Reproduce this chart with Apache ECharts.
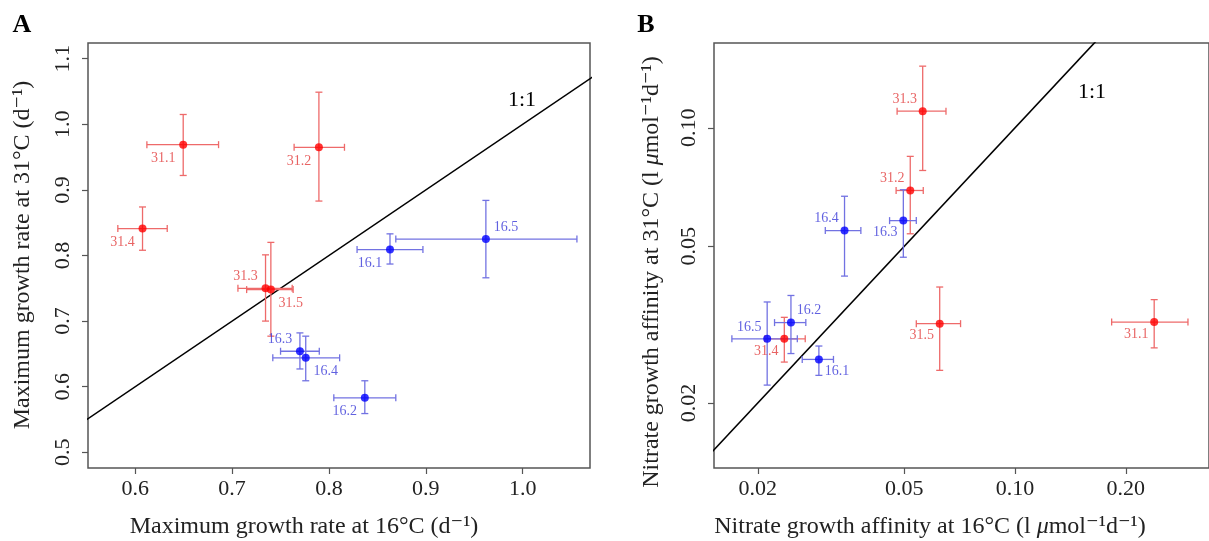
<!DOCTYPE html>
<html><head><meta charset="utf-8">
<script src="https://cdn.jsdelivr.net/npm/echarts@6/dist/echarts.min.js"></script>
<style>html,body{margin:0;padding:0;background:#fff}#c{width:1209px;height:541px}</style>
</head><body><div id="c"></div>
<script>
// ---------- data ----------
const redNames  = ['31.1','31.2','31.3','31.4','31.5'];
const blueNames = ['16.1','16.2','16.3','16.4','16.5'];

// Panel A: maximum growth rate, [value, lower, upper]
const aRedX  = [[0.6495,0.612,0.686],[0.7896,0.764,0.816],[0.7345,0.706,0.762],[0.6075,0.582,0.633],[0.740,0.715,0.763]];
const aRedY  = [[0.969,0.922,1.015],[0.965,0.883,1.049],[0.750,0.700,0.801],[0.841,0.808,0.874],[0.748,0.677,0.820]];
const aBlueX = [[0.863,0.829,0.897],[0.837,0.805,0.869],[0.770,0.750,0.790],[0.776,0.742,0.811],[0.962,0.869,1.056]];
const aBlueY = [[0.809,0.787,0.833],[0.583,0.559,0.609],[0.654,0.627,0.682],[0.644,0.609,0.677],[0.825,0.766,0.884]];

// Panel B: nitrate growth affinity, [value, lower, upper]
const bRedX  = [[0.2388,0.183,0.295],[0.0519,0.0475,0.0563],[0.0561,0.0478,0.0649],[0.0236,0.0209,0.0269],[0.0624,0.0539,0.0711]];
const bRedY  = [[0.0321,0.0276,0.0366],[0.0693,0.0538,0.0846],[0.1102,0.0779,0.1434],[0.0291,0.0254,0.0330],[0.0318,0.0242,0.0394]];
const bBlueX = [[0.0293,0.0264,0.0321],[0.0246,0.0222,0.0270],[0.0497,0.0456,0.0539],[0.0344,0.0305,0.0381],[0.0212,0.0170,0.0256]];
const bBlueY = [[0.0258,0.0235,0.0279],[0.0320,0.0267,0.0375],[0.0581,0.0469,0.0696],[0.0548,0.0420,0.0670],[0.0291,0.0222,0.0361]];

// tick values / labels
const aXTicks = [0.6,0.7,0.8,0.9,1.0];
const aYTicks = [0.5,0.6,0.7,0.8,0.9,1.0,1.1];
const bXTicks = [0.02,0.05,0.10,0.20];
const bXTickLabels = ['0.02','0.05','0.10','0.20'];
const bYTicks = [0.02,0.05,0.10];
const bYTickLabels = ['0.02','0.05','0.10'];

// label placement (corner relative to point)
const aRedSide  = ['bl','bl','tl','bl','br'];
const aBlueSide = ['bl','bl','tl','br','tr'];
const bRedSide  = ['bl','tl','tl','bl','bl'];
const bBlueSide = ['br','tr','bl','tl','tl'];

// ---------- helpers ----------
const FONT = "'Liberation Serif','DejaVu Serif',serif";
const RED = '#ff0000', RED_BAR = '#ee6a6a', RED_TXT = '#e23c3c';
const BLUE = '#0000ff', BLUE_BAR = '#7272e2', BLUE_TXT = '#3a3ad8';
const ident = v => v;
const lg = v => Math.log10(v);

function errSeries(grid, xs, ys, f, color) {
  return {
    type: 'custom', xAxisIndex: grid, yAxisIndex: grid, z: 2, silent: true,
    data: xs.map((x, i) => [f(x[0]), f(x[1]), f(x[2]), f(ys[i][0]), f(ys[i][1]), f(ys[i][2])]),
    encode: { x: [0,1,2], y: [3,4,5] },
    renderItem: (params, api) => {
      const x = api.value(0), xl = api.value(1), xh = api.value(2);
      const y = api.value(3), yl = api.value(4), yh = api.value(5);
      const L = api.coord([xl, y]), R = api.coord([xh, y]);
      const T = api.coord([x, yh]), B = api.coord([x, yl]);
      const c = 3.5, st = { stroke: color, lineWidth: 1.3 };
      const ln = (x1,y1,x2,y2) => ({ type: 'line', shape: {x1,y1,x2,y2}, style: st });
      return { type: 'group', children: [
        ln(L[0],L[1],R[0],R[1]), ln(L[0],L[1]-c,L[0],L[1]+c), ln(R[0],R[1]-c,R[0],R[1]+c),
        ln(T[0],T[1],B[0],B[1]), ln(T[0]-c,T[1],T[0]+c,T[1]), ln(B[0]-c,B[1],B[0]+c,B[1])
      ]};
    }
  };
}
function ptSeries(grid, names, xs, ys, f, color, txt, sides, dx, dyT, dyB) {
  return {
    type: 'scatter', xAxisIndex: grid, yAxisIndex: grid, z: 3, symbolSize: 8,
    itemStyle: { color: color },
    data: xs.map((x, i) => ({
      name: names[i], value: [f(x[0]), f(ys[i][0])],
      label: { offset: [sides[i][1] === 'l' ? -dx : dx, sides[i][0] === 't' ? dyT : dyB] }
    })),
    label: { show: true, position: 'inside', formatter: '{b}', color: txt,
             fontFamily: FONT, fontSize: 14 }
  };
}
function lineSeries(grid, lo, hi) {
  return { type: 'line', xAxisIndex: grid, yAxisIndex: grid, z: 1, symbol: 'none', silent: true,
           clip: true, lineStyle: { color: '#000', width: 1.6 }, data: [[lo, lo], [hi, hi]] };
}
const tickStyle = { show: true, inside: false, length: 6, lineStyle: { color: '#555', width: 1.2 } };
const lblStyle = { fontFamily: FONT, fontSize: 22, color: '#222' };
function axis(grid, min, max, ticks, fmt, rotate, margin) {
  return {
    type: 'value', gridIndex: grid, min, max, splitLine: { show: false },
    axisLine: { show: false },
    axisTick: Object.assign({ customValues: ticks }, tickStyle),
    axisLabel: Object.assign({ customValues: ticks, formatter: fmt, rotate: rotate, margin: margin }, lblStyle)
  };
}
const logFmt = (vals, labs) => v => { const i = vals.findIndex(t => Math.abs(lg(t) - v) < 1e-6); return i >= 0 ? labs[i] : ''; };

const gridStyle = { show: true, borderColor: '#555', borderWidth: 1.5, backgroundColor: 'transparent' };
const titleStyle = (text) => ({ text, fontFamily: FONT, fontSize: 24, fill: '#222', align: 'center', verticalAlign: 'middle',
  rich: { i: { fontFamily: FONT, fontSize: 24, fontStyle: 'italic', fill: '#222' } } });

const chart = echarts.init(document.getElementById('c'), null, { renderer: 'canvas' });
chart.setOption({
  animation: false,
  backgroundColor: '#fff',
  grid: [
    Object.assign({ left: 88, top: 43, width: 502, height: 425 }, gridStyle),
    Object.assign({ left: 714, top: 43, width: 513, height: 425 }, gridStyle)
  ],
  xAxis: [
    axis(0, 0.5512, 1.0695, aXTicks, v => v.toFixed(1), 0, 10),
    axis(1, lg(0.0152), lg(0.3365), bXTicks.map(lg), logFmt(bXTicks, bXTickLabels), 0, 10)
  ],
  yAxis: [
    axis(0, 0.476, 1.124, aYTicks, v => v.toFixed(1), 90, 14),
    axis(1, lg(0.01367), lg(0.1642), bYTicks.map(lg), logFmt(bYTicks, bYTickLabels), 90, 14)
  ],
  series: [
    lineSeries(0, 0.5, 1.2),
    errSeries(0, aRedX, aRedY, ident, RED_BAR),
    errSeries(0, aBlueX, aBlueY, ident, BLUE_BAR),
    ptSeries(0, redNames, aRedX, aRedY, ident, RED, RED_TXT, aRedSide, 20, -12, 14),
    ptSeries(0, blueNames, aBlueX, aBlueY, ident, BLUE, BLUE_TXT, aBlueSide, 20, -12, 14),
    lineSeries(1, lg(0.01), lg(0.5)),
    errSeries(1, bRedX, bRedY, lg, RED_BAR),
    errSeries(1, bBlueX, bBlueY, lg, BLUE_BAR),
    ptSeries(1, redNames, bRedX, bRedY, lg, RED, RED_TXT, bRedSide, 18, -12, 12),
    ptSeries(1, blueNames, bBlueX, bBlueY, lg, BLUE, BLUE_TXT, bBlueSide, 18, -12, 12)
  ],
  graphic: [
    { type: 'text', x: 22, y: 25, style: { text: 'A', fontFamily: FONT, fontWeight: 'bold', fontSize: 26, fill: '#000', align: 'center', verticalAlign: 'middle' } },
    { type: 'text', x: 646, y: 25, style: { text: 'B', fontFamily: FONT, fontWeight: 'bold', fontSize: 26, fill: '#000', align: 'center', verticalAlign: 'middle' } },
    { type: 'text', x: 522, y: 100, style: { text: '1:1', fontFamily: FONT, fontSize: 22, fill: '#000', align: 'center', verticalAlign: 'middle' } },
    { type: 'text', x: 1092, y: 92, style: { text: '1:1', fontFamily: FONT, fontSize: 22, fill: '#000', align: 'center', verticalAlign: 'middle' } },
    { type: 'text', x: 304, y: 527, style: titleStyle('Maximum growth rate at 16°C (d⁻¹)') },
    { type: 'text', x: 930, y: 527, style: titleStyle('Nitrate growth affinity at 16°C (l {i|μ}mol⁻¹d⁻¹)') },
    { type: 'text', x: 23, y: 255, rotation: Math.PI / 2, style: titleStyle('Maximum growth rate at 31°C (d⁻¹)') },
    { type: 'text', x: 652, y: 272, rotation: Math.PI / 2, style: titleStyle('Nitrate growth affinity at 31°C (l {i|μ}mol⁻¹d⁻¹)') }
  ]
});
</script>
</body></html>
